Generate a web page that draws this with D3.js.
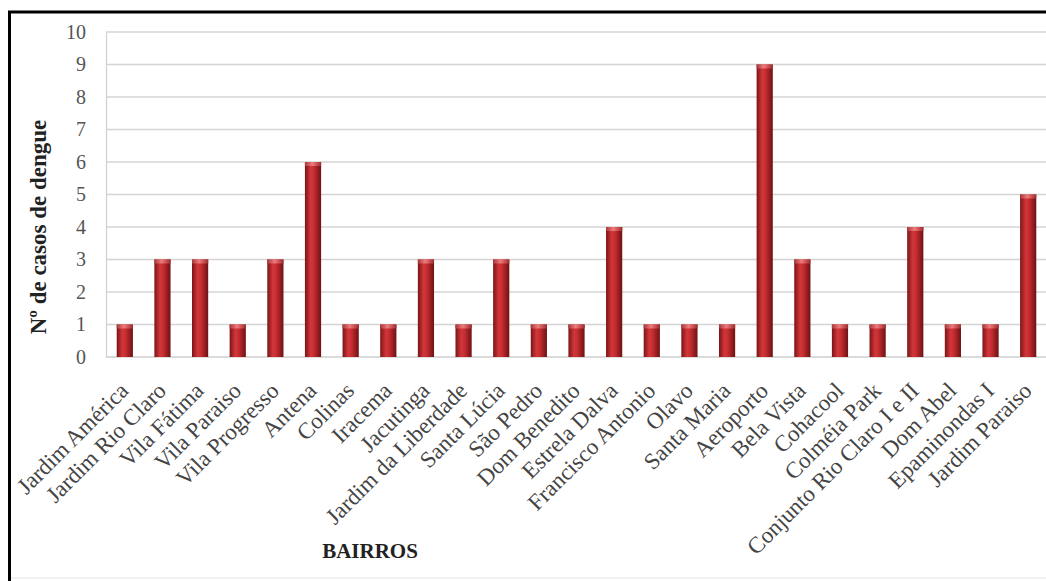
<!DOCTYPE html>
<html>
<head>
<meta charset="utf-8">
<script src="https://cdn.jsdelivr.net/npm/d3@7"></script>
<style>
    body { margin: 0; background: #fff; }
    svg { display: block; }
</style>
</head>
<body>
<div id="chart"></div>
<script>
const bairros = [
    'Jardim América', 'Jardim Rio Claro', 'Vila Fátima', 'Vila Paraiso', 'Vila Progresso',
    'Antena', 'Colinas', 'Iracema', 'Jacutinga', 'Jardim da Liberdade', 'Santa Lúcia',
    'São Pedro', 'Dom Benedito', 'Estrela Dalva', 'Francisco Antonio', 'Olavo',
    'Santa Maria', 'Aeroporto', 'Bela Vista', 'Cohacool', 'Colméia Park',
    'Conjunto Rio Claro I e II', 'Dom Abel', 'Epaminondas I', 'Jardim Paraiso'
];
const casos = [1, 3, 3, 1, 3, 6, 1, 1, 3, 1, 3, 1, 1, 4, 1, 1, 1, 9, 3, 1, 1, 4, 1, 1, 5];
const y_ticks = [0, 1, 2, 3, 4, 5, 6, 7, 8, 9, 10];

const chart_width = 1046;
const chart_height = 581;
const plot = { left: 106, right: 1047, top: 32, bottom: 357 };
const serif = '"Liberation Serif", "Times New Roman", serif';

const svg = d3.select('#chart')
    .append('svg')
    .attr('width', chart_width)
    .attr('height', chart_height);

// Gradients for the bars
const defs = svg.append('defs');
const grad = defs.append('linearGradient')
    .attr('id', 'bar-grad')
    .attr('x1', '0%').attr('x2', '100%')
    .attr('y1', '0%').attr('y2', '0%');
grad.append('stop').attr('offset', '0%').attr('stop-color', '#7a1416');
grad.append('stop').attr('offset', '35%').attr('stop-color', '#d2363a');
grad.append('stop').attr('offset', '55%').attr('stop-color', '#c62d31');
grad.append('stop').attr('offset', '100%').attr('stop-color', '#6e1113');

const cap = defs.append('linearGradient')
    .attr('id', 'cap-grad')
    .attr('x1', '0%').attr('x2', '100%');
cap.append('stop').attr('offset', '0%').attr('stop-color', '#a8383a');
cap.append('stop').attr('offset', '45%').attr('stop-color', '#f07a7c');
cap.append('stop').attr('offset', '100%').attr('stop-color', '#a02a2c');

// Scales
const x_scale = d3.scaleBand()
    .domain(bairros)
    .range([plot.left, plot.right])
    .paddingInner(0.57)
    .paddingOuter(0.285);

const y_scale = d3.scaleLinear()
    .domain([0, 10])
    .range([plot.bottom, plot.top]);

// Gridlines
svg.append('g')
    .selectAll('line')
    .data(y_ticks.filter(d => d > 0))
    .enter()
    .append('line')
    .attr('x1', plot.left)
    .attr('x2', plot.right)
    .attr('y1', d => y_scale(d))
    .attr('y2', d => y_scale(d))
    .attr('stroke', '#d4d4d4')
    .attr('stroke-width', 1.5);

// Y axis
const y_axis = d3.axisLeft(y_scale)
    .tickValues(y_ticks)
    .tickSize(0)
    .tickPadding(20);

svg.append('g')
    .attr('class', 'y-axis')
    .attr('transform', `translate(${plot.left}, 0)`)
    .call(y_axis)
    .call(g => g.select('.domain').attr('stroke', '#cfcfcf').attr('stroke-width', 1.2))
    .call(g => g.selectAll('text')
        .attr('font-family', serif)
        .attr('font-size', 20)
        .attr('fill', '#555'));

// X axis
const x_axis = d3.axisBottom(x_scale).tickSize(0).tickPadding(0);

svg.append('g')
    .attr('class', 'x-axis')
    .attr('transform', `translate(0, ${plot.bottom})`)
    .call(x_axis)
    .call(g => g.select('.domain').remove())
    .call(g => g.selectAll('text')
        .attr('font-family', serif)
        .attr('font-size', 23)
        .attr('fill', '#444')
        .attr('text-anchor', 'end')
        .attr('dy', 0)
        .attr('transform', 'translate(5, 35) rotate(-45)'));

svg.append('line')
    .attr('x1', plot.left)
    .attr('x2', plot.right)
    .attr('y1', plot.bottom)
    .attr('y2', plot.bottom)
    .attr('stroke', '#cfcfcf')
    .attr('stroke-width', 1.5);

// Bars
const bars = svg.append('g')
    .selectAll('g')
    .data(bairros)
    .enter()
    .append('g');

bars.append('rect')
    .attr('x', d => x_scale(d))
    .attr('y', (d, i) => y_scale(casos[i]))
    .attr('width', x_scale.bandwidth())
    .attr('height', (d, i) => y_scale(0) - y_scale(casos[i]))
    .attr('fill', 'url(#bar-grad)');

bars.append('rect')
    .attr('x', d => x_scale(d))
    .attr('y', (d, i) => y_scale(casos[i]))
    .attr('width', x_scale.bandwidth())
    .attr('height', 4)
    .attr('fill', 'url(#cap-grad)');

// Axis titles
svg.append('text')
    .attr('transform', `translate(46, 227) rotate(-90)`)
    .attr('text-anchor', 'middle')
    .attr('font-family', serif)
    .attr('font-weight', 'bold')
    .attr('font-size', 23)
    .attr('fill', '#222')
    .text('Nº de casos de dengue');

svg.append('text')
    .attr('x', 370)
    .attr('y', 558)
    .attr('text-anchor', 'middle')
    .attr('font-family', serif)
    .attr('font-weight', 'bold')
    .attr('font-size', 21)
    .attr('fill', '#222')
    .text('BAIRROS');

// Frame
svg.append('line')
    .attr('x1', 9.5).attr('x2', 9.5)
    .attr('y1', 11).attr('y2', chart_height)
    .attr('stroke', '#000').attr('stroke-width', 3);
svg.append('line')
    .attr('x1', 8).attr('x2', chart_width)
    .attr('y1', 12).attr('y2', 12)
    .attr('stroke', '#000').attr('stroke-width', 3);
svg.append('line')
    .attr('x1', 11).attr('x2', chart_width)
    .attr('y1', 578).attr('y2', 578)
    .attr('stroke', '#e6e6e6').attr('stroke-width', 1);
</script>
</body>
</html>
